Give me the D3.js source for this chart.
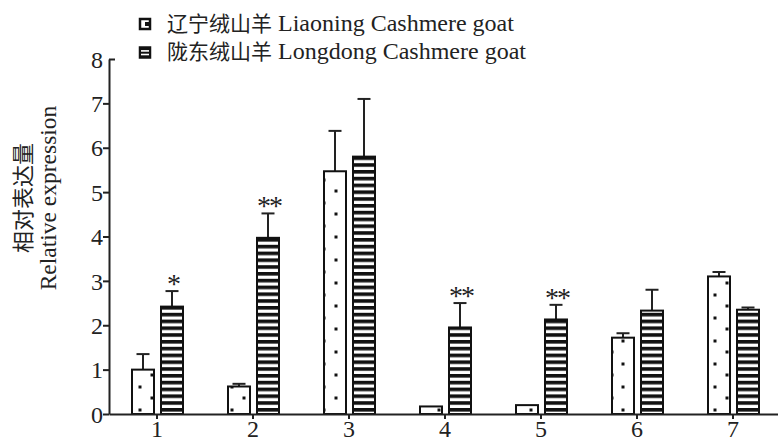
<!DOCTYPE html>
<html lang="zh">
<head>
    <meta charset="UTF-8">
    <title>Relative expression</title>
    <style>
        body{ margin:0; background:#fff; }
        svg{ display:block; }
        text{ font-family:"Liberation Serif","Times New Roman",serif; fill:#222; }
        .cjk{ font-family:"Noto Sans CJK SC","Noto Sans CJK TC",sans-serif; }
    </style>
    <script src="https://cdn.jsdelivr.net/npm/d3@7"></script>
</head>
<body>
<script>
    const width = 778
    const height = 442

    // data
    const groups = ["1","2","3","4","5","6","7"]
    const liaoning = [1.0, 0.62, 5.47, 0.17, 0.2, 1.72, 3.1]
    const liaoningErr = [0.35, 0.06, 0.91, 0.0, 0.0, 0.1, 0.1]
    const longdong = [2.42, 3.97, 5.8, 1.95, 2.13, 2.33, 2.35]
    const longdongErr = [0.35, 0.55, 1.3, 0.55, 0.33, 0.47, 0.05]
    const signif = ["*", "**", "", "**", "**", "", ""]
    const yTicks = [0,1,2,3,4,5,6,7,8]
    const seriesCn = ["辽宁绒山羊", "陇东绒山羊"]
    const seriesEn = ["Liaoning Cashmere goat", "Longdong Cashmere goat"]

    const svg = d3.select("body").append("svg")
        .attr("width", width).attr("height", height)
        .attr("viewBox", `0 0 ${width} ${height}`)

    const defs = svg.append("defs")
    // sparse dots
    const dots = defs.append("pattern").attr("id","dots")
        .attr("patternUnits","userSpaceOnUse")
        .attr("width",23).attr("height",23)
    dots.append("rect").attr("width",23).attr("height",23).attr("fill","#fff")
    dots.append("rect").attr("x",0.5).attr("y",17.5).attr("width",3).attr("height",3).attr("fill","#111")
    dots.append("rect").attr("x",12.5).attr("y",5.5).attr("width",3).attr("height",3).attr("fill","#111")
    // horizontal stripes
    const stripes = defs.append("pattern").attr("id","stripes")
        .attr("patternUnits","userSpaceOnUse")
        .attr("width",10).attr("height",6.8)
    stripes.append("rect").attr("width",10).attr("height",6.8).attr("fill","#111")
    stripes.append("rect").attr("y",3.6).attr("width",10).attr("height",3.2).attr("fill","#fff")

    const x = d3.scaleBand().domain(groups).range([109, 781])
    const y = d3.scaleLinear().domain([0, 8]).range([414, 59])

    const barW = 22
    const data = groups.map((g,i)=>({
        g, a: liaoning[i], ae: liaoningErr[i], b: longdong[i], be: longdongErr[i], s: signif[i]
    }))

    const gBars = svg.append("g")

    // error bars (upper half only)
    function errBar(cx, v, e){
        if(e <= 0) return
        gBars.append("line").attr("x1",cx).attr("x2",cx)
            .attr("y1",y(v)).attr("y2",y(v+e))
            .attr("stroke","#222").attr("stroke-width",2)
        gBars.append("line").attr("x1",cx-6.5).attr("x2",cx+6.5)
            .attr("y1",y(v+e)).attr("y2",y(v+e))
            .attr("stroke","#222").attr("stroke-width",2)
    }

    data.forEach(d=>{
        const c = x(d.g) + x.bandwidth()/2
        const xa = c - 25, xb = c + 4
        errBar(xa + barW/2, d.a, d.ae)
        errBar(xb + barW/2, d.b, d.be)
        gBars.append("rect").attr("x",xa).attr("y",y(d.a))
            .attr("width",barW).attr("height",y(0)-y(d.a))
            .attr("fill","url(#dots)").attr("stroke","#111").attr("stroke-width",2)
        gBars.append("rect").attr("x",xb).attr("y",y(d.b))
            .attr("width",barW).attr("height",y(0)-y(d.b))
            .attr("fill","url(#stripes)").attr("stroke","#111").attr("stroke-width",2)
        if(d.s){
            gBars.append("text").text(d.s)
                .attr("x", xb + barW/2 + 1).attr("y", y(d.b+d.be) + 2)
                .attr("text-anchor","middle")
                .style("font-size","28px")
                .style("letter-spacing","-2px")
        }
    })

    // axes
    const yAxis = svg.append("g").attr("transform","translate(109,0)")
        .call(d3.axisLeft(y).tickValues(yTicks).tickFormat(d3.format("d")).tickSize(6).tickSizeOuter(0))
    const xAxis = svg.append("g").attr("transform",`translate(0,${y(0)})`)
        .call(d3.axisBottom(x).tickSize(5).tickSizeOuter(0))
    ;[yAxis, xAxis].forEach(a=>{
        a.attr("font-family",null).attr("font-size",null)
        a.select(".domain").attr("stroke","#222").attr("stroke-width",2)
        a.selectAll(".tick line").attr("stroke","#222").attr("stroke-width",2)
        a.selectAll("text").style("font-size","24px").attr("fill","#222")
    })
    yAxis.selectAll("text").attr("x",-6).attr("dy","0.34em")
    xAxis.selectAll("text").attr("y",6)
    // the top tick turns inward
    yAxis.selectAll(".tick").filter(d=>d===8).select("line").attr("x2",6)

    // y title
    const yt = svg.append("text")
        .attr("transform","translate(0,198) rotate(-90)")
        .attr("text-anchor","middle")
    yt.append("tspan").attr("class","cjk").attr("x",0).attr("y",31).text("相对表达量")
        .style("font-size","22px")
    yt.append("tspan").attr("x",0).attr("y",56).text("Relative expression")
        .style("font-size","23.5px")

    // legend
    const leg = svg.append("g").attr("transform","translate(139,18)")
    seriesCn.forEach((n,i)=>{
        const row = leg.append("g").attr("transform",`translate(0,${i*28.5})`)
        if(i===0){
            row.append("rect").attr("x",1).attr("y",1).attr("width",10).attr("height",10)
                .attr("fill","#fff").attr("stroke","#111").attr("stroke-width",2.5)
            row.append("rect").attr("x",6).attr("y",4).attr("width",4).attr("height",4).attr("fill","#111")
        } else {
            row.append("rect").attr("x",1).attr("y",1).attr("width",10).attr("height",10)
                .attr("fill","#111").attr("stroke","#111").attr("stroke-width",2.5)
            row.selectAll(".st").data([3.6, 7.2]).enter().append("rect")
                .attr("x",2).attr("y",d=>d).attr("width",8).attr("height",1.6).attr("fill","#fff")
        }
        const t = row.append("text").attr("x",28).attr("y",12.5)
        t.append("tspan").attr("class","cjk").text(n).style("font-size","21px")
        t.append("tspan").text(" " + seriesEn[i]).style("font-size","24px")
    })
</script>
</body>
</html>
